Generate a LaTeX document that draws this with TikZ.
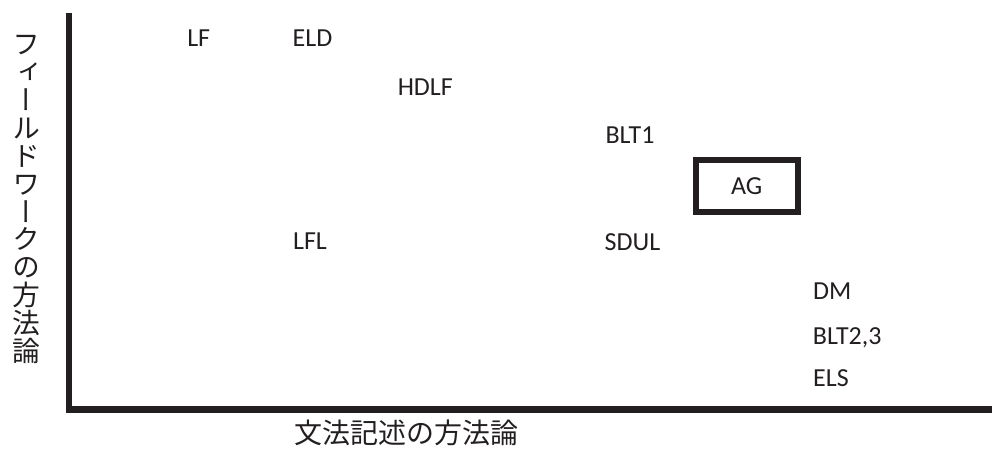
\documentclass[tikz,border=0pt]{standalone}
\usepackage{fontspec}
\usepackage{graphicx}
\setmainfont{Carlito}
\newfontfamily\jpfont{Noto Sans CJK JP}
\newfontfamily\jpvert[RawFeature=+vert]{Noto Sans CJK JP}
\definecolor{ink}{HTML}{231F20}
\begin{document}
\begin{tikzpicture}[x=1pt,y=-1pt,
  lbl/.style={font=\fontsize{26}{30}\selectfont, text=ink, inner sep=0pt, anchor=base},
  axisline/.style={line width=6.5pt, draw=ink, line join=miter},
  jplabel/.style={text=ink, inner sep=0pt}]
\useasboundingbox (0,0) rectangle (992,448);
% axes
\coordinate (top) at (69,13.3);
\coordinate (origin) at (69,409.5);
\coordinate (right) at (992,409.5);
\draw[axisline] (top) -- (origin) -- (right);
% axis titles
\node[jplabel, align=center, font=\jpvert\fontsize{27.8}{27.9}\selectfont] (ylabel) at (26,199.5)
  {フ\\ィ\\ー\\ル\\ド\\ワ\\ー\\ク\\の\\方\\法\\論};
\node[jplabel, anchor=base, text depth=0pt, font=\jpfont\fontsize{28}{30}\selectfont] (xlabel) at (406,443.5) {文法記述の方法論};
% labels
\node[lbl] (lf)   at (198.7,46.7) {LF};
\node[lbl] (eld)  at (312.5,46.7) {ELD};
\node[lbl] (hdlf) at (425.3,95.7) {HDLF};
\node[lbl] (blt1) at (630,143.3) {BLT1};
\node[lbl] (lfl)  at (310,249) {LFL};
\node[lbl] (sdul) at (632.5,250) {SDUL};
\node[lbl] (dm)   at (832.2,299.3) {DM};
\node[lbl] (blt23) at (847.2,344) {BLT2,3};
\node[lbl] (els)  at (831,386.7) {ELS};
\node[draw=ink, line width=6pt, text=ink, font=\fontsize{26}{30}\selectfont,
      minimum width=102pt, minimum height=52.5pt, inner sep=0pt] (ag) at (746.7,186) {AG};
\end{tikzpicture}
\end{document}
